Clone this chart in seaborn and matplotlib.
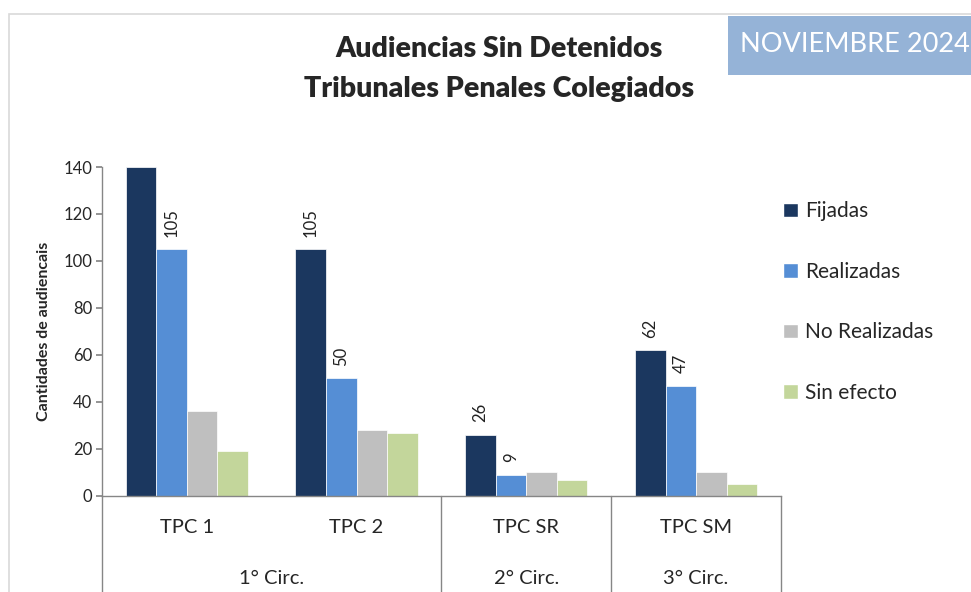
import matplotlib
matplotlib.use('Agg')
import matplotlib.pyplot as plt
import matplotlib.patches as mpatches
import seaborn as sns
import pandas as pd

# data
tribunales = ['TPC 1', 'TPC 2', 'TPC SR', 'TPC SM']
circunscripciones = ['1° Circ.', '2° Circ.', '3° Circ.']
circ_span = [(-0.5, 1.5), (1.5, 2.5), (2.5, 3.5)]
series = ['Fijadas', 'Realizadas', 'No Realizadas', 'Sin efecto']
fijadas = [140, 105, 26, 62]
realizadas = [105, 50, 9, 47]
no_realizadas = [36, 28, 10, 10]
sin_efecto = [19, 27, 7, 5]
colores = ['#1B375F', '#558ED5', '#BFBFBF', '#C3D69B']

rows = []
for name, vals in zip(series, [fijadas, realizadas, no_realizadas, sin_efecto]):
    for t, v in zip(tribunales, vals):
        rows.append({'Tribunal': t, 'Serie': name, 'Cantidad': v})
df = pd.DataFrame(rows)

sns.set_theme(style='white')
plt.rcParams['font.family'] = ['Lato', 'DejaVu Sans']

fig = plt.figure(figsize=(9.71, 5.92), dpi=100)
ax = fig.add_axes([0.1050, 0.1622, 0.6993, 0.5557])

sns.barplot(data=df, x='Tribunal', y='Cantidad', hue='Serie', order=tribunales,
            hue_order=series, palette=colores, saturation=1, width=0.72, gap=0,
            edgecolor='white', linewidth=0.5, ax=ax, legend=False)

ymax = 140
ax.set_ylim(0, ymax)
ax.set_xlim(-0.5, 3.5)
ax.set_yticks(range(0, 141, 20))
ax.tick_params(axis='y', labelsize=12, length=4, color='#868686', left=True, direction='out', pad=3)
ax.set_xticks([])
ax.set_xlabel('')
ax.set_ylabel('Cantidades de audiencais', fontsize=11.5, fontweight='bold', labelpad=9)
for s in ['top', 'right']:
    ax.spines[s].set_visible(False)
for s in ['left', 'bottom']:
    ax.spines[s].set_color('#868686')
    ax.spines[s].set_linewidth(1)

# value labels only on the first two series
for cont, vals in zip(ax.containers[:2], [fijadas, realizadas]):
    labs = ['' if v >= ymax else str(v) for v in vals]
    ax.bar_label(cont, labels=labs, rotation=90, padding=9, fontsize=12, color='#222222')

# two-level category axis
tr = ax.get_xaxis_transform()
for t_i, t in enumerate(tribunales):
    ax.text(t_i, -0.097, t, transform=tr, ha='center', va='center', fontsize=14.5)
for c, (a, b) in zip(circunscripciones, circ_span):
    ax.text((a + b) / 2, -0.25, c, transform=tr, ha='center', va='center', fontsize=14.5)
for xb in [-0.5, 1.5, 2.5, 3.5]:
    ax.plot([xb, xb], [0, -0.32], transform=tr, color='#868686', lw=1, clip_on=False)

# legend on the right
handles = [mpatches.Patch(facecolor=c, label=s) for c, s in zip(colores, series)]
fig.legend(handles=handles, loc='upper left', bbox_to_anchor=(0.787, 0.692),
           frameon=False, fontsize=15, handlelength=0.7, handleheight=0.7,
           handletextpad=0.35, labelspacing=1.95)

# title
fig.text(0.514, 0.918, 'Audiencias Sin Detenidos', ha='center', va='center',
         fontsize=20.5, fontweight='heavy')
fig.text(0.514, 0.849, 'Tribunales Penales Colegiados', ha='center', va='center',
         fontsize=20.5, fontweight='heavy')

# outer chart frame
fig.patches.append(mpatches.Rectangle((9 / 971, -0.1), 1.2, 1 - 14 / 592 + 0.1,
                                      transform=fig.transFigure, fill=False,
                                      edgecolor='#D9D9D9', lw=1.2))

# month badge
fig.patches.append(mpatches.Rectangle((728 / 971, 1 - 75 / 592), 0.3, 59 / 592,
                                      transform=fig.transFigure, facecolor='#95B3D7',
                                      edgecolor='none'))
fig.text(740 / 971, 1 - 45 / 592, 'NOVIEMBRE 2024', ha='left', va='center',
         fontsize=19.5, color='white')

fig.savefig('out.png', dpi=100)
